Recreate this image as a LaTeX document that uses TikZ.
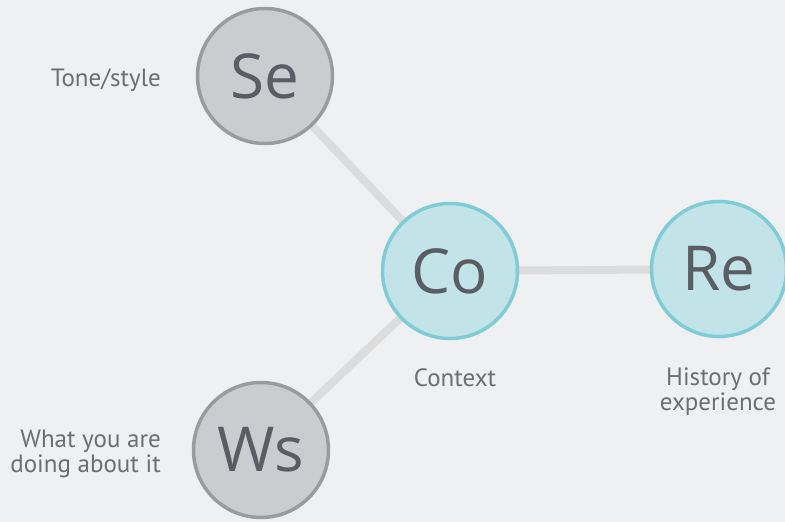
\documentclass[tikz,border=0pt]{standalone}
\usepackage{fontspec}
\setmainfont{Open Sans}
\newfontfamily\smallfont{PT Sans}
\definecolor{bg}{HTML}{EFF0F2}
\definecolor{grayfill}{HTML}{CBCCCF}
\definecolor{grayline}{HTML}{9A9B9D}
\definecolor{bluefill}{HTML}{C2E4E8}
\definecolor{blueline}{HTML}{7ECDD6}
\definecolor{txt}{HTML}{5A5D63}
\definecolor{smalltxt}{HTML}{6B6E72}
\definecolor{conn}{HTML}{DCDCDC}
\tikzset{
  graynode/.style={circle, draw=grayline, fill=grayfill, line width=3.5pt, minimum size=135pt, inner sep=0pt, text=txt, font=\fontsize{62}{62}\selectfont},
  bluenode/.style={circle, draw=blueline, fill=bluefill, line width=3.5pt, minimum size=135pt, inner sep=0pt, text=txt, font=\fontsize{62}{62}\selectfont},
  conline/.style={draw=conn, line width=8pt},
  lbl/.style={text=smalltxt, font=\smallfont\fontsize{25}{25}\selectfont, inner sep=0pt}
}
\begin{document}
\begin{tikzpicture}[x=1pt,y=-1pt]
\path[fill=bg] (0,0) rectangle (785,522);
\useasboundingbox (0,0) rectangle (785,522);
\coordinate (seC) at (265,76);
\coordinate (coC) at (450,271);
\coordinate (reC) at (719,269);
\coordinate (wsC) at (261,450);
\draw[conline] (seC) -- (coC);
\draw[conline] (wsC) -- (coC);
\draw[conline] (coC) -- (reC);
\node[graynode] (se) at (seC) {Se};
\node[bluenode] (co) at (coC) {Co};
\node[bluenode] (re) at (reC) {Re};
\node[graynode] (ws) at (wsC) {Ws};
\node[lbl, anchor=east] (tone) at (161,80) {Tone/style};
\node[lbl] (ctx) at (455,378) {Context};
\node[lbl, align=center] (hist) at (718,392) {History of\\experience};
\node[lbl, align=right, anchor=east] (what) at (161,454) {What you are\\doing about it};
\end{tikzpicture}
\end{document}
